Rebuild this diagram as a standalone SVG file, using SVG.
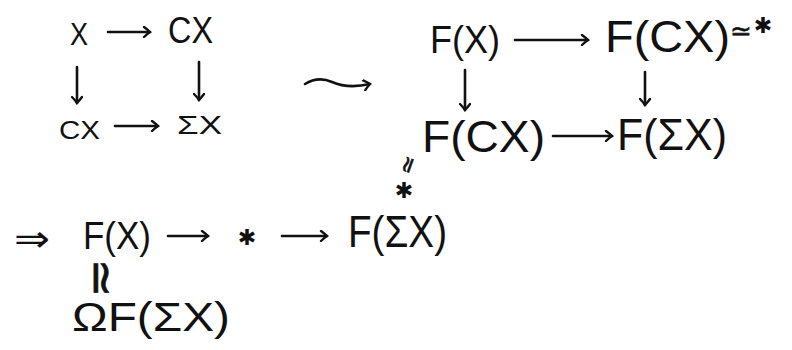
<svg xmlns="http://www.w3.org/2000/svg" width="792" height="350" viewBox="0 0 792 350">
<defs>
<style>
.t{font-family:"Liberation Sans","DejaVu Sans",sans-serif;fill:#111;}
.s{font-family:"DejaVu Sans","Liberation Sans",sans-serif;fill:#111;}
.st{font-family:"DejaVu Sans",sans-serif;fill:#111;font-size:22px;text-anchor:middle;}
.a{stroke:#111;stroke-width:2.6;fill:none;stroke-linecap:round;stroke-linejoin:round;marker-end:url(#h);}
</style>
<marker id="h" viewBox="0 0 12 12" refX="10" refY="6" markerWidth="12" markerHeight="12" markerUnits="userSpaceOnUse" orient="auto">
<path d="M4,1 Q8,4 10,6 Q7,8 4,11" fill="none" stroke="#111" stroke-width="2.4" stroke-linecap="round"/>
</marker>
</defs>
<rect width="792" height="350" fill="#fff"/>

<g id="connectors">
<path class="a" d="M108,32 L150,32"/>
<path class="a" d="M77,67 L77,103"/>
<path class="a" d="M199,62 L199,100"/>
<path class="a" d="M115,126 L158,126"/>
<path class="a" d="M305,84 Q318,76 332,82 Q348,89 370,84"/>
<path class="a" d="M515,40 L588,40"/>
<path class="a" d="M465,70 L465,110"/>
<path class="a" d="M645,72 L645,105"/>
<path class="a" d="M553,136 L612,136"/>
<path class="a" d="M168,236 L208,236"/>
<path class="a" d="M282,236 L327,236"/>
</g>

<g id="left-square">
<g id="n-X"><text class="t" x="70" y="45" font-size="32" textLength="18" lengthAdjust="spacingAndGlyphs">X</text></g>
<g id="n-CX-top"><text class="t" x="168" y="43" font-size="36" textLength="45" lengthAdjust="spacingAndGlyphs">CX</text></g>
<g id="n-CX-bottom"><text class="t" x="59" y="139" font-size="26" textLength="41" lengthAdjust="spacingAndGlyphs">CX</text></g>
<g id="n-SigmaX"><text class="t" x="177" y="134" font-size="26" textLength="45" lengthAdjust="spacingAndGlyphs">ΣX</text></g>
</g>

<g id="right-square">
<g id="n-FX"><text class="t" x="430" y="53" font-size="38" textLength="70" lengthAdjust="spacingAndGlyphs">F(X)</text></g>
<g id="n-FCX-top">
<text class="t" x="605" y="52" font-size="44" textLength="125" lengthAdjust="spacingAndGlyphs">F(CX)</text>
<text class="s" x="741" y="40" font-size="26" text-anchor="middle" stroke="#111" stroke-width="0.6">≃</text>
<text class="st" x="763" y="33">✱</text>
</g>
<g id="n-FCX-bottom">
<text class="t" x="422" y="152" font-size="44" textLength="123" lengthAdjust="spacingAndGlyphs">F(CX)</text>
<text class="s" x="0" y="0" font-size="22" text-anchor="middle" stroke="#111" stroke-width="0.7" transform="translate(408,165) rotate(-70) translate(0,7)">≃</text>
<text class="st" x="404" y="198">✱</text>
</g>
<g id="n-FSigmaX"><text class="t" x="617" y="150" font-size="44" textLength="110" lengthAdjust="spacingAndGlyphs">F(ΣX)</text></g>
</g>

<g id="bottom-row">
<g id="n-implies"><text class="s" x="14" y="251" font-size="36" textLength="36" lengthAdjust="spacingAndGlyphs">⇒</text></g>
<g id="n-FX-bottom"><text class="t" x="83" y="249" font-size="38" textLength="68" lengthAdjust="spacingAndGlyphs">F(X)</text></g>
<g id="n-star"><text class="st" x="247" y="245">✱</text></g>
<g id="n-FSigmaX-bottom"><text class="t" x="348" y="247" font-size="44" textLength="99" lengthAdjust="spacingAndGlyphs">F(ΣX)</text></g>
<g id="n-iso"><text class="s" x="0" y="0" font-size="46" text-anchor="middle" stroke="#111" stroke-width="0.8" transform="translate(101,278) rotate(90) translate(0,15)">≃</text></g>
<g id="n-OmegaFSigmaX"><text class="t" x="72" y="331" font-size="40" textLength="158" lengthAdjust="spacingAndGlyphs">ΩF(ΣX)</text></g>
</g>
</svg>
